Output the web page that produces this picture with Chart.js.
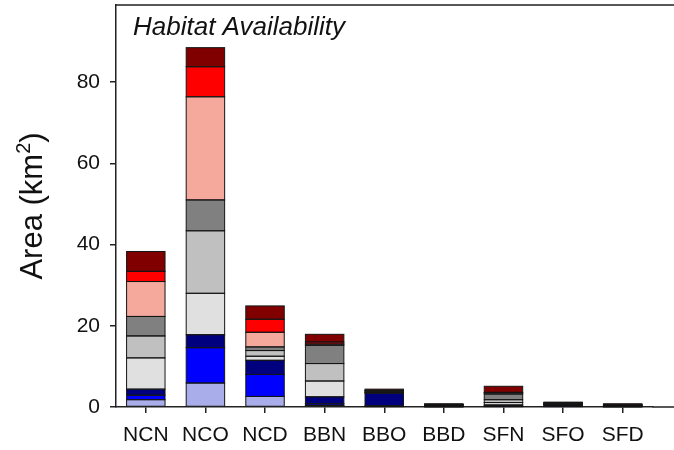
<!DOCTYPE html>
<html>
<head>
<meta charset="utf-8">
<script src="https://cdn.jsdelivr.net/npm/chart.js@4/dist/chart.umd.min.js"></script>
<style>
  html, body { margin: 0; padding: 0; background: #fff; overflow: hidden; }
  #wrap { width: 674px; height: 450px; }
</style>
</head>
<body>
<div id="wrap"><canvas id="c" width="674" height="450"></canvas></div>
<script>
// Sites along the x axis
const sites = ['NCN', 'NCO', 'NCD', 'BBN', 'BBO', 'BBD', 'SFN', 'SFO', 'SFD'];
const yTickValues = [0, 20, 40, 60, 80];

// Habitat area (km²) per class, stacked bottom to top
const habitat1 = [1.8, 5.9, 2.6, 0.4, 0.1, 0.05, 0.1, 0.1, 0.05];
const habitat2 = [1.1, 8.7, 5.4, 0.4, 0.2, 0.05, 0.1, 0.1, 0.05];
const habitat3 = [1.5, 3.2, 3.5, 1.7, 3.1, 0.25, 0.3, 0.3, 0.2];
const habitat4 = [7.7, 10.2, 1.0, 3.9, 0.1, 0.05, 0.6, 0.1, 0.05];
const habitat5 = [5.4, 15.4, 1.4, 4.3, 0.1, 0.05, 0.7, 0.1, 0.05];
const habitat6 = [4.8, 7.6, 0.9, 4.5, 0.3, 0.1, 1.4, 0.2, 0.1];
const habitat7 = [8.6, 25.4, 3.6, 0.3, 0.1, 0.05, 0.3, 0.05, 0.05];
const habitat8 = [2.5, 7.4, 3.2, 0.5, 0.1, 0.05, 0.1, 0.05, 0.05];
const habitat9 = [4.9, 4.7, 3.3, 1.9, 0.3, 0.15, 1.5, 0.2, 0.2];

const seriesValues = [habitat1, habitat2, habitat3, habitat4, habitat5, habitat6, habitat7, habitat8, habitat9];
const seriesColors = ['#a9aeea', '#0000ff', '#00007f', '#e0e0e0', '#c0c0c0', '#808080', '#f5a99c', '#ff0000', '#800000'];

const FONT = "'Liberation Sans', Arial, sans-serif";
const AXIS_COLOR = '#222';

// Thin outline around every stacked segment, taken from the bar elements
const outlinePlugin = {
  id: 'segmentOutline',
  afterDatasetsDraw(chart) {
    const { ctx } = chart;
    ctx.save();
    ctx.strokeStyle = '#151515';
    ctx.lineWidth = 1;
    chart.data.datasets.forEach((ds, i) => {
      chart.getDatasetMeta(i).data.forEach(bar => {
        const { x, y, base, width } = bar.getProps(['x', 'y', 'base', 'width'], true);
        const top = Math.min(y, base);
        const h = Math.abs(base - y);
        ctx.strokeRect(x - width / 2, top, width, h);
      });
    });
    ctx.restore();
  }
};

// Frame pieces beyond the category band, the y-axis title and the panel heading
const framePlugin = {
  id: 'frame',
  afterDraw(chart) {
    const { ctx, chartArea: a, width } = chart;
    ctx.save();
    ctx.strokeStyle = AXIS_COLOR;
    ctx.lineWidth = 1.5;
    ctx.beginPath();
    ctx.moveTo(a.left - 0.75, a.top);
    ctx.lineTo(width, a.top);
    ctx.moveTo(a.right, a.bottom);
    ctx.lineTo(width, a.bottom);
    ctx.stroke();

    ctx.fillStyle = '#111';
    ctx.font = "italic 26px " + FONT;
    ctx.textBaseline = 'alphabetic';
    ctx.textAlign = 'left';
    ctx.fillText('Habitat Availability', a.left + 17, a.top + 30);

    // y-axis title with a raised exponent
    const mainFont = "31px " + FONT;
    const supFont = "20px " + FONT;
    const parts = [
      { t: 'Area (km', f: mainFont, dy: 0 },
      { t: '2', f: supFont, dy: -12 },
      { t: ')', f: mainFont, dy: 0 }
    ];
    let total = 0;
    parts.forEach(p => { ctx.font = p.f; p.w = ctx.measureText(p.t).width; total += p.w; });
    ctx.translate(42, (a.top + a.bottom) / 2);
    ctx.rotate(-Math.PI / 2);
    let cx = -total / 2;
    parts.forEach(p => {
      ctx.font = p.f;
      ctx.fillText(p.t, cx, p.dy);
      cx += p.w;
    });
    ctx.restore();
  }
};

new Chart(document.getElementById('c'), {
  type: 'bar',
  data: {
    labels: sites,
    datasets: seriesValues.map((vals, i) => ({
      label: 'Class ' + (i + 1),
      data: vals,
      backgroundColor: seriesColors[i],
      borderWidth: 0,
      categoryPercentage: 1,
      barPercentage: 0.645
    }))
  },
  options: {
    responsive: false,
    animation: false,
    events: [],
    layout: { padding: { top: 5, right: 21.5, left: 0, bottom: 0 } },
    plugins: { legend: { display: false }, tooltip: { enabled: false } },
    scales: {
      x: {
        stacked: true,
        offset: true,
        afterFit(scale) { scale.height = 43; scale.paddingLeft = 0; scale.paddingRight = 0; },
        grid: { display: true, drawOnChartArea: false, offset: false, tickLength: 6, color: AXIS_COLOR, lineWidth: 1.5 },
        border: { display: true, color: AXIS_COLOR, width: 1.5 },
        ticks: { color: '#111', padding: 10, font: { family: FONT, size: 21 }, maxRotation: 0, autoSkip: false }
      },
      y: {
        stacked: true,
        min: 0,
        max: 99,
        afterFit(scale) { scale.width = 116; scale.paddingTop = 0; scale.paddingBottom = 0; },
        afterBuildTicks(scale) { scale.ticks = yTickValues.map(v => ({ value: v })); },
        grid: { display: true, drawOnChartArea: false, tickLength: 6, color: AXIS_COLOR, lineWidth: 1.5 },
        border: { display: true, color: AXIS_COLOR, width: 1.5 },
        ticks: { color: '#111', padding: 10, font: { family: FONT, size: 21 } }
      }
    }
  },
  plugins: [outlinePlugin, framePlugin]
});
</script>
</body>
</html>
